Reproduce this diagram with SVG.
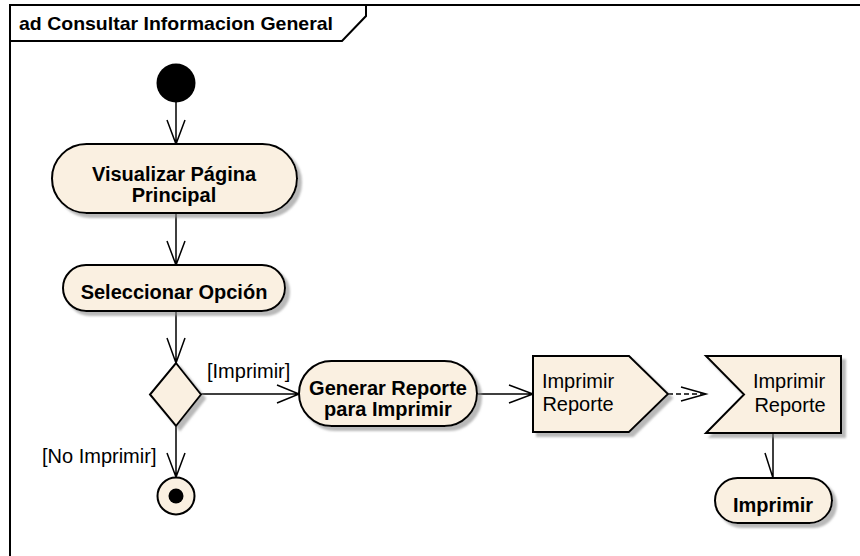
<svg xmlns="http://www.w3.org/2000/svg" width="860" height="556" viewBox="0 0 860 556">
<defs>
<filter id="sh" x="-10%" y="-10%" width="130%" height="140%">
<feDropShadow dx="4" dy="4" stdDeviation="1.2" flood-color="#8a8a8a" flood-opacity="0.6"/>
</filter>
<style>
.n{fill:#FAF0E1;stroke:#000;stroke-width:2;filter:url(#sh)}
.e{fill:none;stroke:#000;stroke-width:1.5}
.b{font-family:"Liberation Sans",Arial,sans-serif;font-weight:bold;font-size:20px;fill:#000;text-anchor:middle}
.r{font-family:"Liberation Sans",Arial,sans-serif;font-size:20px;fill:#000}
</style>
</defs>
<rect width="860" height="556" fill="#fff"/>
<g id="frame">
<path d="M10,560 V5 H865" fill="none" stroke="#000" stroke-width="2"/>
<path d="M10,41 H342 L366,16 V5" fill="none" stroke="#000" stroke-width="2"/>
<text x="19" y="30" font-family="Liberation Sans,Arial,sans-serif" font-weight="bold" font-size="19" textLength="314" lengthAdjust="spacingAndGlyphs">ad Consultar Informacion General</text>
</g>
<g id="connectors">
<path class="e" d="M176,102 V144 M167,120 L176,144 L185,120"/>
<path class="e" d="M176,213 V265 M167,241 L176,265 L185,241"/>
<path class="e" d="M176,311 V363 M167,338 L176,363 L185,338"/>
<path class="e" d="M201,394 H299 M277,385 L299,394 L277,403"/>
<text class="r" x="207" y="378">[Imprimir]</text>
<path class="e" d="M176,426 V477 M167,453 L176,477 L185,453"/>
<text class="r" x="42" y="463">[No Imprimir]</text>
<path class="e" d="M477,394 H533 M509,385 L533,394 L509,403"/>
<path class="e" d="M668,394 H704" stroke-dasharray="5,3"/>
<path class="e" d="M681,387 L706,394 L681,401"/>
<path class="e" d="M773,433 V478 M765,453 L773,478"/>
</g>
<g id="initial">
<circle cx="176" cy="83" r="19.5" fill="#000"/>
</g>
<g id="visualizar">
<rect class="n" x="52" y="144" width="245" height="69" rx="34.5"/>
<text class="b" x="174" y="181">Visualizar Página</text>
<text class="b" x="174" y="202">Principal</text>
</g>
<g id="seleccionar">
<rect class="n" x="63" y="265" width="222" height="46" rx="23"/>
<text class="b" x="174" y="299">Seleccionar Opción</text>
</g>
<g id="decision">
<polygon class="n" points="176,363 201,394.5 176,426 150,394.5"/>
</g>
<g id="final">
<circle cx="176" cy="496" r="18.5" fill="#FAF0E1" stroke="#000" stroke-width="2"/>
<circle cx="176" cy="496" r="7.5" fill="#000"/>
</g>
<g id="generar">
<rect class="n" x="299" y="361" width="178" height="65" rx="32.5"/>
<text class="b" x="388" y="395">Generar Reporte</text>
<text class="b" x="388" y="416">para Imprimir</text>
</g>
<g id="send">
<polygon class="n" points="533,356 629,356 668,394 629,432 533,432"/>
<text class="r" x="578" y="388" text-anchor="middle">Imprimir</text>
<text class="r" x="578" y="411" text-anchor="middle">Reporte</text>
</g>
<g id="receive">
<polygon class="n" points="706,356 841,356 841,433 706,433 744,394.5"/>
<text class="r" x="789" y="388" text-anchor="middle">Imprimir</text>
<text class="r" x="790" y="412" text-anchor="middle">Reporte</text>
</g>
<g id="imprimir">
<rect class="n" x="715" y="478" width="117" height="45" rx="22.5"/>
<text class="b" x="773" y="512">Imprimir</text>
</g>
</svg>
